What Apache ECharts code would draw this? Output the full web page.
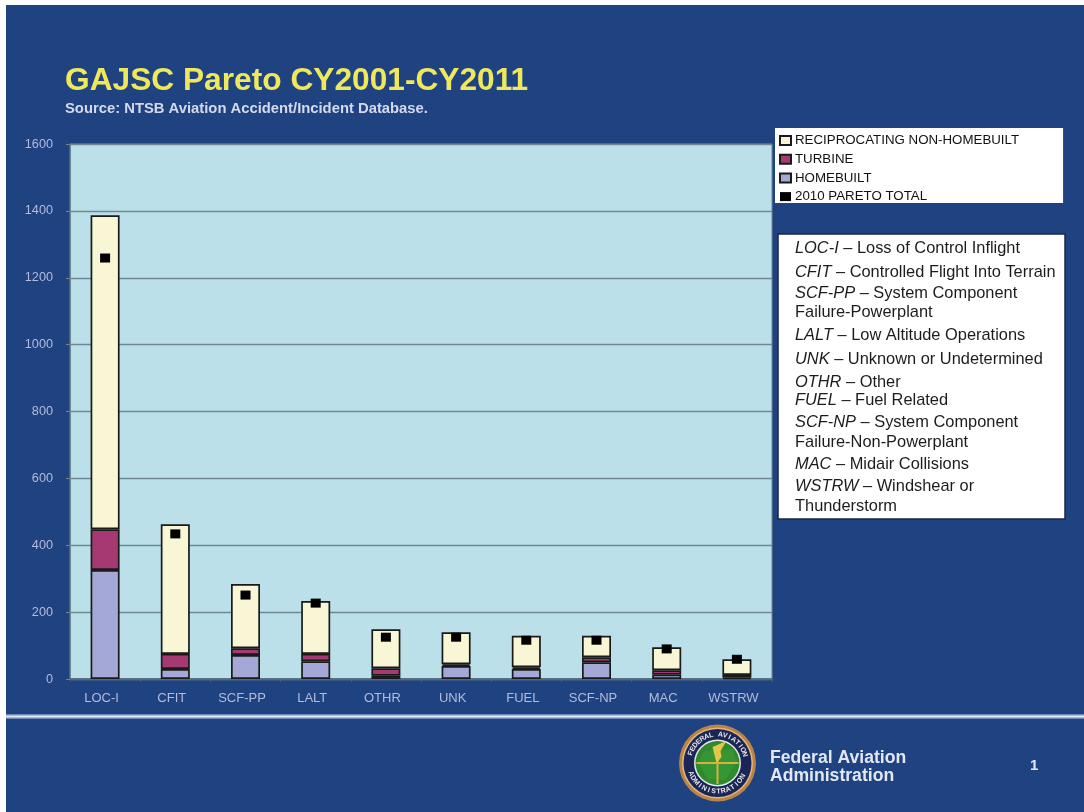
<!DOCTYPE html>
<html lang="en">
<head>
    <meta charset="UTF-8">
    <title>GAJSC Pareto CY2001-CY2011</title>
    <style>
        html, body { margin: 0; padding: 0; background: #fff; overflow: hidden; }
        #slide { position: absolute; left: 6px; top: 5px; width: 1078px; height: 807px; background: #1f4280; }
        #main { position: absolute; left: 0; top: 0; width: 1084px; height: 812px; }
    </style>
</head>
<body>
<div id="slide"></div>
<div id="main"></div>
<script src="https://cdn.jsdelivr.net/npm/echarts@6/dist/echarts.min.js"></script>
<script type="text/javascript">
    // values
    var categories = ['LOC-I', 'CFIT', 'SCF-PP', 'LALT', 'OTHR', 'UNK', 'FUEL', 'SCF-NP', 'MAC', 'WSTRW'];
    var homebuilt = [326, 30, 72, 53, 10, 39, 30, 50, 13, 4];
    var turbine = [122, 45, 20, 22, 22, 5, 5, 15, 13, 8];
    var reciprocating = [939, 388, 192, 158, 117, 96, 94, 64, 69, 47];
    var paretoTotal = [1259, 434, 251, 227, 125, 125, 116, 116, 90, 59];

    var legendNames = ['RECIPROCATING NON-HOMEBUILT', 'TURBINE', 'HOMEBUILT', '2010 PARETO TOTAL'];

    // glossary box, one entry per line: [italic part, plain part]
    var glossary = [
        ['LOC-I', ' – Loss of Control Inflight'],
        ['CFIT', ' – Controlled Flight Into Terrain'],
        ['SCF-PP', ' – System Component'],
        ['', 'Failure-Powerplant'],
        ['LALT', ' – Low Altitude Operations'],
        ['UNK', ' – Unknown or Undetermined'],
        ['OTHR', ' – Other'],
        ['FUEL', ' – Fuel Related'],
        ['SCF-NP', ' – System Component'],
        ['', 'Failure-Non-Powerplant'],
        ['MAC', ' – Midair Collisions'],
        ['WSTRW', ' – Windshear or'],
        ['', 'Thunderstorm']
    ];
    var glossaryY = [248, 272, 293, 312, 335, 359, 382, 400, 422, 442, 464, 486, 506];

    var font = '"Liberation Sans", Arial, sans-serif';
    var myChart = echarts.init(document.getElementById('main'));

    var graphics = [
        { type: 'text', left: 65, top: 65, style: { text: 'GAJSC Pareto CY2001-CY2011', font: 'bold 31.7px ' + font, fill: '#efe75c' } },
        { type: 'text', left: 65, top: 101, style: { text: 'Source: NTSB Aviation Accident/Incident Database.', font: 'bold 14.8px ' + font, fill: '#d6d9ec' } },
        // line under the chart
        { type: 'rect', shape: { x: 6, y: 714, width: 1078, height: 5 }, style: { fill: '#6f86b8' } },
        { type: 'rect', shape: { x: 6, y: 715.5, width: 1078, height: 2 }, style: { fill: '#e6e9f6' } },
        { type: 'rect', shape: { x: 778, y: 234, width: 287, height: 285 }, style: { fill: '#ffffff', stroke: '#1c2440', lineWidth: 1.5 } },
        { type: 'text', left: 770, top: 749, style: { text: 'Federal Aviation', font: 'bold 17.6px ' + font, fill: '#e4e7f2' } },
        { type: 'text', left: 770, top: 767, style: { text: 'Administration', font: 'bold 17.6px ' + font, fill: '#e4e7f2' } },
        { type: 'text', left: 1030, top: 758, style: { text: '1', font: 'bold 15px ' + font, fill: '#e4e7f2' } }
    ];

    glossary.forEach(function (line, i) {
        graphics.push({
            type: 'text', x: 795, y: glossaryY[i],
            style: {
                text: (line[0] ? '{i|' + line[0] + '}' : '') + '{n|' + line[1] + '}',
                verticalAlign: 'middle',
                rich: {
                    i: { font: 'italic 16.4px ' + font, fill: '#1c1c1c' },
                    n: { font: '16.4px ' + font, fill: '#1c1c1c' }
                }
            }
        });
    });

    // FAA seal
    var sealX = 717.5, sealY = 763;
    function ring(r, fill) {
        graphics.push({ type: 'circle', shape: { cx: sealX, cy: sealY, r: r }, style: { fill: fill } });
    }
    ring(38.5, '#b98448');
    ring(35.5, '#e6b878');
    ring(34, '#1a2558');
    ring(23.5, '#e8e8e8');
    ring(22, '#2f8a2e');
    graphics.push({ type: 'polygon', shape: { points: [[sealX - 14, sealY - 12], [sealX + 15, sealY - 14], [sealX + 19, sealY - 2], [sealX + 8, sealY + 17], [sealX - 10, sealY + 16], [sealX - 19, sealY]] }, style: { fill: '#3a9a38', opacity: 0.7 } });
    graphics.push({ type: 'rect', shape: { x: sealX - 21, y: sealY - 1, width: 42, height: 2 }, style: { fill: '#d8b23c' } });
    graphics.push({ type: 'rect', shape: { x: sealX - 1, y: sealY - 14, width: 2, height: 35 }, style: { fill: '#d8b23c' } });
    graphics.push({ type: 'polygon', shape: { points: [[sealX - 1, sealY], [sealX - 5, sealY - 16], [sealX + 9, sealY - 22], [sealX + 3, sealY - 12], [sealX + 4, sealY - 6]] }, style: { fill: '#e3c64a' } });

    function arcText(str, startDeg, stepDeg, radius, flip) {
        str.split('').forEach(function (ch, i) {
            var a = (startDeg + stepDeg * i) * Math.PI / 180;
            graphics.push({
                type: 'text',
                x: sealX + radius * Math.cos(a),
                y: sealY + radius * Math.sin(a),
                rotation: flip ? -(a - Math.PI / 2) : -(a + Math.PI / 2),
                style: { text: ch, font: 'bold 7px ' + font, fill: '#e8e8e8', align: 'center', verticalAlign: 'middle' }
            });
        });
    }
    arcText('FEDERAL AVIATION', -160, 9.5, 28.5, false);
    arcText('ADMINISTRATION', 158, -10, 28.5, true);

    var barBorder = { borderColor: '#1a1a1a', borderWidth: 1.7 };

    var option = {
        animation: false,
        textStyle: { fontFamily: font },
        grid: {
            show: true, left: 70, top: 144, width: 702, height: 535,
            backgroundColor: '#bbe0ea', borderColor: '#6e8791', borderWidth: 1
        },
        legend: {
            data: legendNames, orient: 'vertical', left: 775, top: 128,
            backgroundColor: '#ffffff', padding: [6, 44, 0, 4],
            itemWidth: 11, itemHeight: 9, itemGap: 5.7, icon: 'rect',
            textStyle: { color: '#111111', fontSize: 13.3, padding: [0, 0, 0, -1] }
        },
        xAxis: {
            type: 'category', data: categories,
            axisLine: { lineStyle: { color: '#4d6070', width: 1.5 } },
            axisTick: { show: true, length: 3, lineStyle: { color: '#4d6070' } },
            axisLabel: { color: '#b4bbdc', fontSize: 13, margin: 13, padding: [0, 7, 0, 0] }
        },
        yAxis: {
            type: 'value', min: 0, max: 1600, interval: 200,
            axisLine: { show: true, lineStyle: { color: '#6e8791' } },
            axisTick: { show: true, length: 4, lineStyle: { color: '#6e8791' } },
            axisLabel: { color: '#b4bbdc', fontSize: 12.7, margin: 17, formatter: function (v) { return String(v); } },
            splitLine: { lineStyle: { color: '#6e8791', width: 1.3 } }
        },
        series: [
            { name: 'HOMEBUILT', type: 'bar', stack: 'total', barWidth: 29, data: homebuilt, itemStyle: Object.assign({ color: '#a3a8d6' }, barBorder) },
            { name: 'TURBINE', type: 'bar', stack: 'total', data: turbine, itemStyle: Object.assign({ color: '#a53a72' }, barBorder) },
            { name: 'RECIPROCATING NON-HOMEBUILT', type: 'bar', stack: 'total', data: reciprocating, itemStyle: Object.assign({ color: '#f8f6d4' }, barBorder) },
            { name: '2010 PARETO TOTAL', type: 'scatter', data: paretoTotal, symbol: 'rect', symbolSize: [10, 9], z: 5, itemStyle: { color: '#000000', borderWidth: 0, opacity: 1 } }
        ],
        graphic: graphics
    };

    myChart.setOption(option);
</script>
</body>
</html>
